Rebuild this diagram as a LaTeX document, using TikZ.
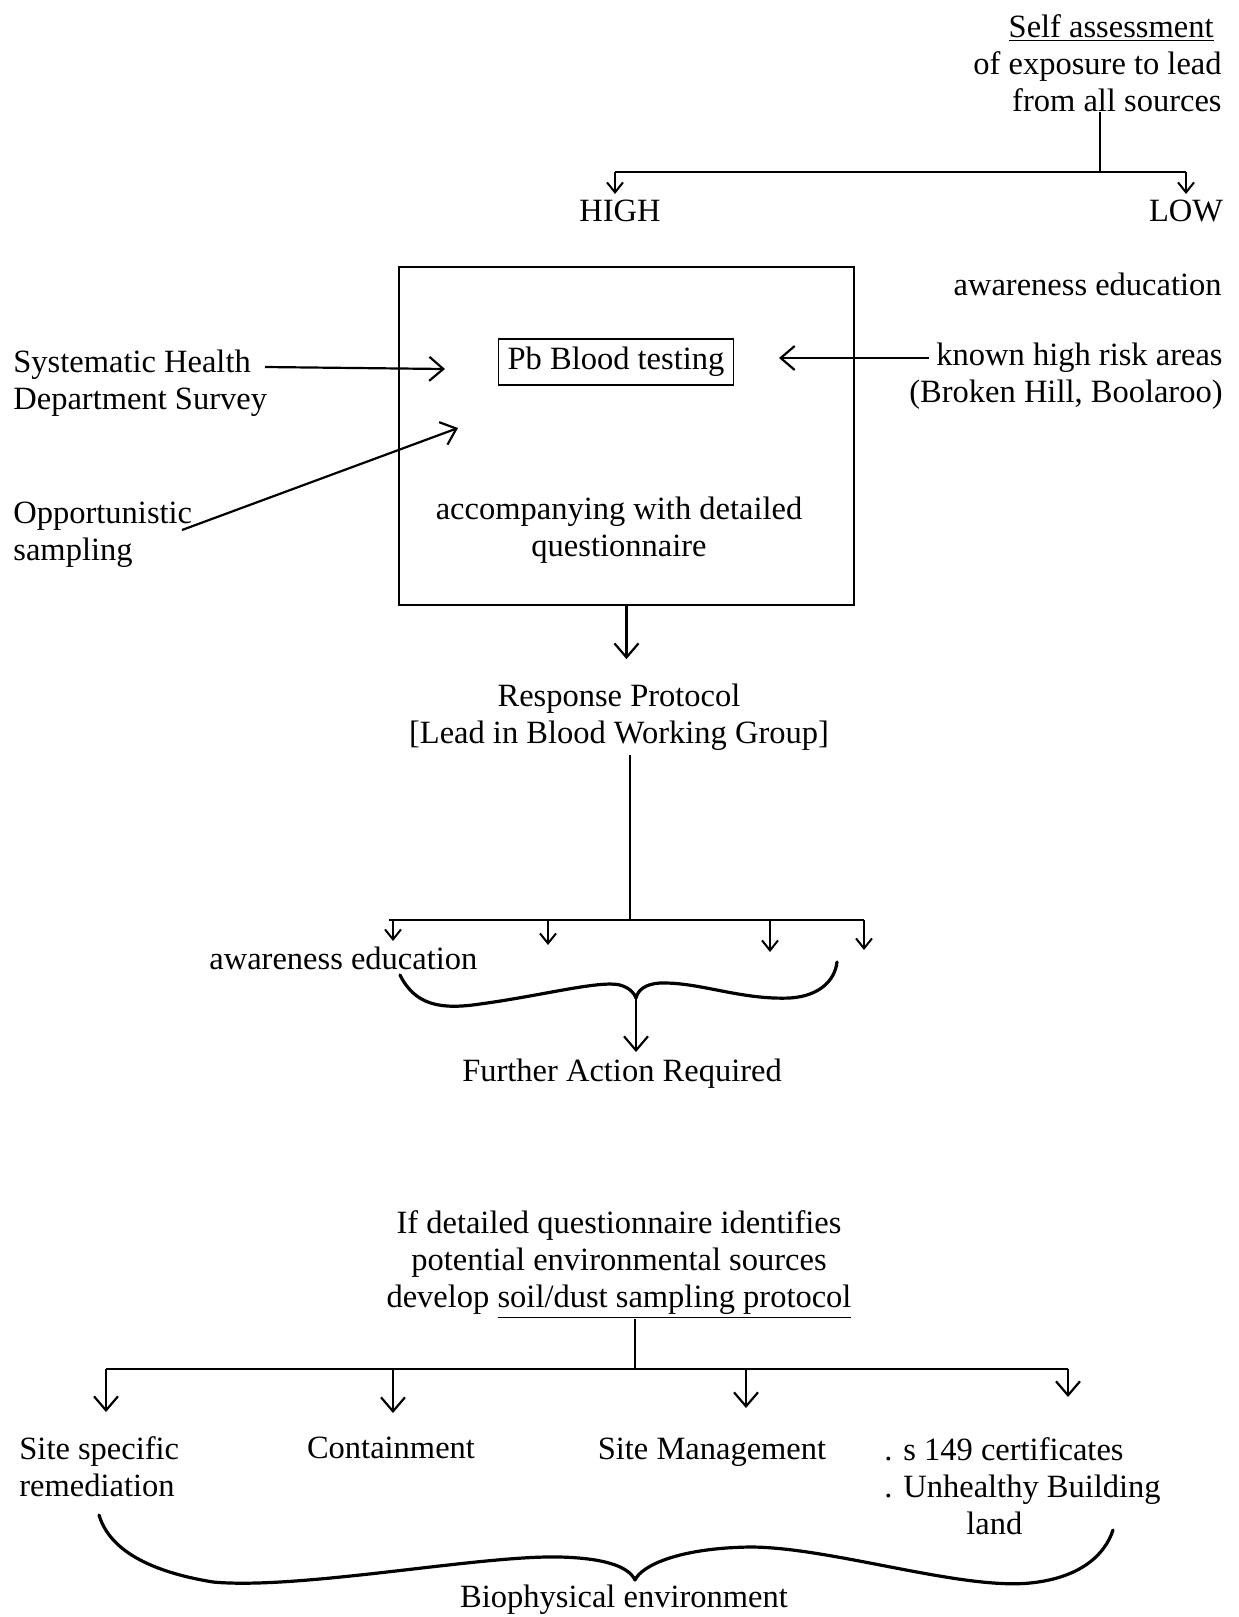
\documentclass[tikz,border=0pt]{standalone}
\usepackage{fontspec}
\setmainfont{Liberation Serif}
\usetikzlibrary{arrows.meta}
\begin{document}
\begin{tikzpicture}[x=0.5pt,y=-0.5pt,
  txt/.style={font=\fontsize{16.25}{18.5}\selectfont, inner sep=0pt, align=center},
  ln/.style={line width=1.1pt},
  arr/.style={line width=1.1pt,-{Straight Barb[length=7pt,width=12pt,line width=1.1pt]}},
  sarr/.style={line width=1pt,-{Straight Barb[length=5pt,width=8pt,line width=1pt]}},
  bracestyle/.style={line width=1.6pt, line cap=round, line join=round}]
\useasboundingbox (0,0) rectangle (1238,1617);

% ---------- top: self assessment ----------
\node[txt, anchor=east, align=right] (self) at (1222,63)
  {\underline{Self assessment}\hspace*{4pt}\\of exposure to lead\hspace*{4pt}\\from all sources};
\node[txt] (high) at (620,211) {HIGH};
\node[txt] (low) at (1186,211) {LOW};
\coordinate (s1) at (1100,112);
\coordinate (sj) at (1100,172);
\coordinate (hl) at (615,172);
\coordinate (hr) at (1186,172);
\draw[ln] (s1) -- (sj);
\draw[ln] (hl) -- (hr);
\draw[sarr] (hl) -- (615,194);
\draw[sarr] (hr) -- (1186,194);

\node[txt, anchor=east] (aware1) at (1222,284) {awareness education};

% ---------- main box ----------
\node[draw, ln, minimum width=227.5pt, minimum height=169pt, inner sep=0pt] (box) at (626.5,436) {};
\node[txt, draw, line width=0.8pt, minimum width=117.5pt, minimum height=23pt] (pb) at (616,362) {Pb Blood testing};
\node[txt] (acc) at (619,530) {accompanying with detailed\\questionnaire};

\node[txt, anchor=west, align=left] (sys) at (13,383) {Systematic Health\\Department Survey};
\coordinate (sysa) at (265,367);
\coordinate (sysb) at (445,369);
\draw[arr] (sysa) -- (sysb);

\node[txt, anchor=west, align=left] (opp) at (13,535) {Opportunistic\\sampling};
\coordinate (oppa) at (182,530);
\coordinate (oppb) at (458,428);
\draw[arr] (oppa) -- (oppb);

\node[txt, anchor=east, align=right] (known) at (1223,376) {known high risk areas\\(Broken Hill, Boolaroo)};
\coordinate (kna) at (929,358);
\coordinate (knb) at (779,358);
\draw[arr] (kna) -- (knb);

% ---------- response protocol ----------
\draw[arr] (box.south) -- ++(0,53);
\node[txt] (resp) at (619,717) {Response Protocol\\{[}Lead in Blood Working Group{]}};
\coordinate (r1) at (630,755);
\coordinate (r2) at (630,920);
\draw[ln] (r1) -- (r2);
\coordinate (ml) at (389,920);
\coordinate (mr) at (864,920);
\draw[ln] (ml) -- (mr);
\draw[sarr] (393,920) -- ++(0,21);
\draw[sarr] (548,920) -- ++(0,25);
\draw[sarr] (770,920) -- ++(0,32);
\draw[sarr] (864,920) -- ++(0,30);

\node[txt, anchor=west] (aware2) at (209,958) {awareness education};

% brace 1
\coordinate (cusp1) at (636,998);
\draw[bracestyle] (400,975) .. controls (415,1005) and (440,1010) .. (480,1004)
  .. controls (540,996) and (600,980) .. (620,985)
  .. controls (630,988) and (634,993) .. (cusp1)
  .. controls (638,990) and (645,984) .. (660,983)
  .. controls (700,982) and (740,1000) .. (790,998)
  .. controls (820,996) and (835,980) .. (837,962);
\node[txt] (further) at (622,1074) {Further Action Required};
\draw[arr] (cusp1) -- (636,1052);

% ---------- soil / dust sampling ----------
\node[txt] (ifq) at (619,1265) {If detailed questionnaire identifies\\potential environmental sources\\develop \underline{soil/dust sampling protocol}};
\coordinate (q1) at (635,1319);
\coordinate (q2) at (635,1369);
\draw[ln] (q1) -- (q2);
\coordinate (bl) at (106,1369);
\coordinate (br) at (1068,1369);
\draw[ln] (bl) -- (br);
\draw[arr] (106,1369) -- ++(0,43);
\draw[arr] (393,1369) -- ++(0,44);
\draw[arr] (746,1369) -- ++(0,39);
\draw[arr] (1068,1369) -- ++(0,28);

\node[txt, anchor=west, align=left] (ssr) at (19,1467) {Site specific\\remediation};
\node[txt] (cont) at (391,1448) {Containment};
\node[txt] (sman) at (712,1452) {Site Management};
\node[txt, anchor=west, align=left] (cert) at (884,1486) {. s 149 certificates\\. Unhealthy Building\\\hspace*{41pt}land};

% brace 2
\coordinate (cusp2) at (635,1580);
\draw[bracestyle] (99,1515) .. controls (108,1545) and (140,1570) .. (213,1582)
  .. controls (300,1590) and (480,1555) .. (560,1557)
  .. controls (600,1558) and (628,1565) .. (cusp2)
  .. controls (642,1565) and (680,1548) .. (750,1547)
  .. controls (830,1547) and (960,1590) .. (1030,1583)
  .. controls (1080,1578) and (1105,1555) .. (1113,1530);
\node[txt] (bio) at (624,1600) {Biophysical environment};

\end{tikzpicture}
\end{document}
